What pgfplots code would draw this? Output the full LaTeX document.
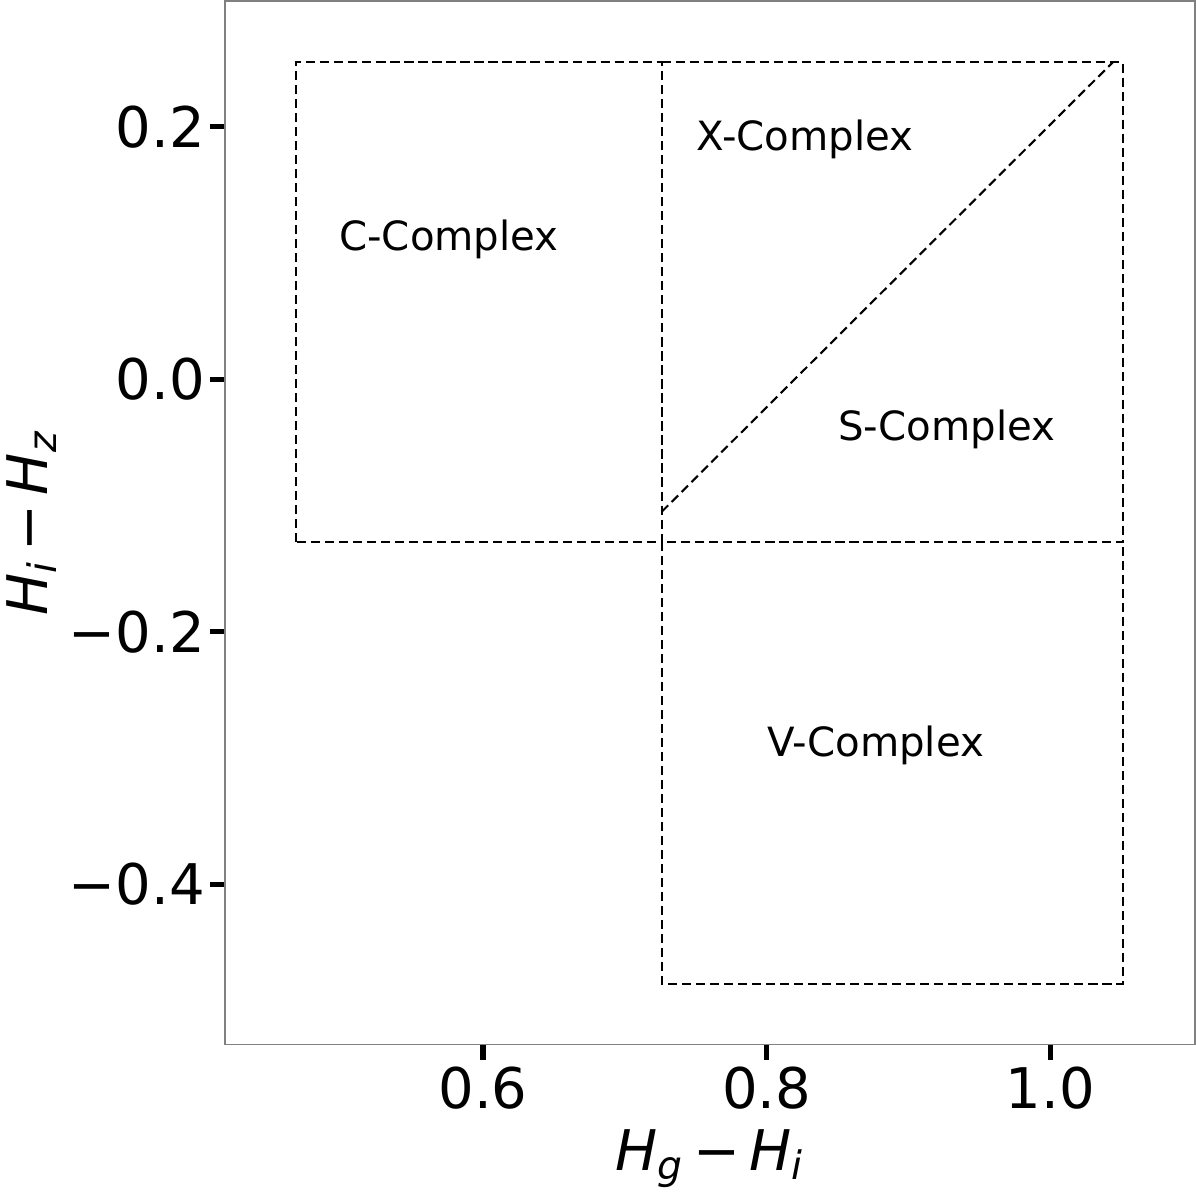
\documentclass[border=0pt]{standalone}
\usepackage{fontspec}
\setmainfont{DejaVu Sans}
\usepackage{pgfplots}
\pgfplotsset{compat=1.18}
\pgfplotsset{regionline/.style={black, no markers, line width=0.6pt, dash pattern=on 2.6pt off 1.4pt}}
\begin{document}
\begin{tikzpicture}
\begin{axis}[
  scale only axis,
  width=277pt, height=298pt,
  xmin=0.418, xmax=1.102,
  ymin=-0.527, ymax=0.2997,
  xtick={0.6,0.8,1.0}, xticklabels={0.6,0.8,1.0},
  ytick={-0.4,-0.2,0,0.2}, yticklabels={−0.4,−0.2,0.0,0.2},
  tick align=outside, xtick pos=bottom, ytick pos=left,
  major tick length=4.3pt,
  tick style={black, line width=1.5pt},
  axis line style={gray, line width=0.5pt},
  tick label style={font=\fontsize{16}{19}\selectfont, inner sep=1.2pt},
  xticklabel style={inner sep=2pt},
  label style={font=\fontsize{16}{19}\selectfont, inner sep=2pt},
  xlabel style={inner sep=3.5pt},
  xlabel={\textit{H}\textsubscript{\textit{g}}\,−\,\textit{H}\textsubscript{\textit{i}}},
  ylabel={\textit{H}\textsubscript{\textit{i}}\,−\,\textit{H}\textsubscript{\textit{z}}},
]
% C-complex box
\addplot[regionline] coordinates {(0.468,-0.129) (0.468,0.251) (0.726,0.251) (0.726,-0.129) (0.468,-0.129)};
% X/S-complex box
\addplot[regionline] coordinates {(0.726,0.251) (1.051,0.251) (1.051,-0.129) (0.726,-0.129)};
% V-complex box
\addplot[regionline] coordinates {(0.726,-0.129) (0.726,-0.479) (1.051,-0.479) (1.051,-0.129)};
% X/S divider
\addplot[regionline] coordinates {(0.726,-0.105) (1.044,0.251)};
\node[font=\fontsize{11.5}{13}\selectfont] at (axis cs:0.576,0.111) {C-Complex};
\node[font=\fontsize{11.5}{13}\selectfont] at (axis cs:0.827,0.190) {X-Complex};
\node[font=\fontsize{11.5}{13}\selectfont] at (axis cs:0.927,-0.040) {S-Complex};
\node[font=\fontsize{11.5}{13}\selectfont] at (axis cs:0.877,-0.290) {V-Complex};
\end{axis}
\end{tikzpicture}
\end{document}
